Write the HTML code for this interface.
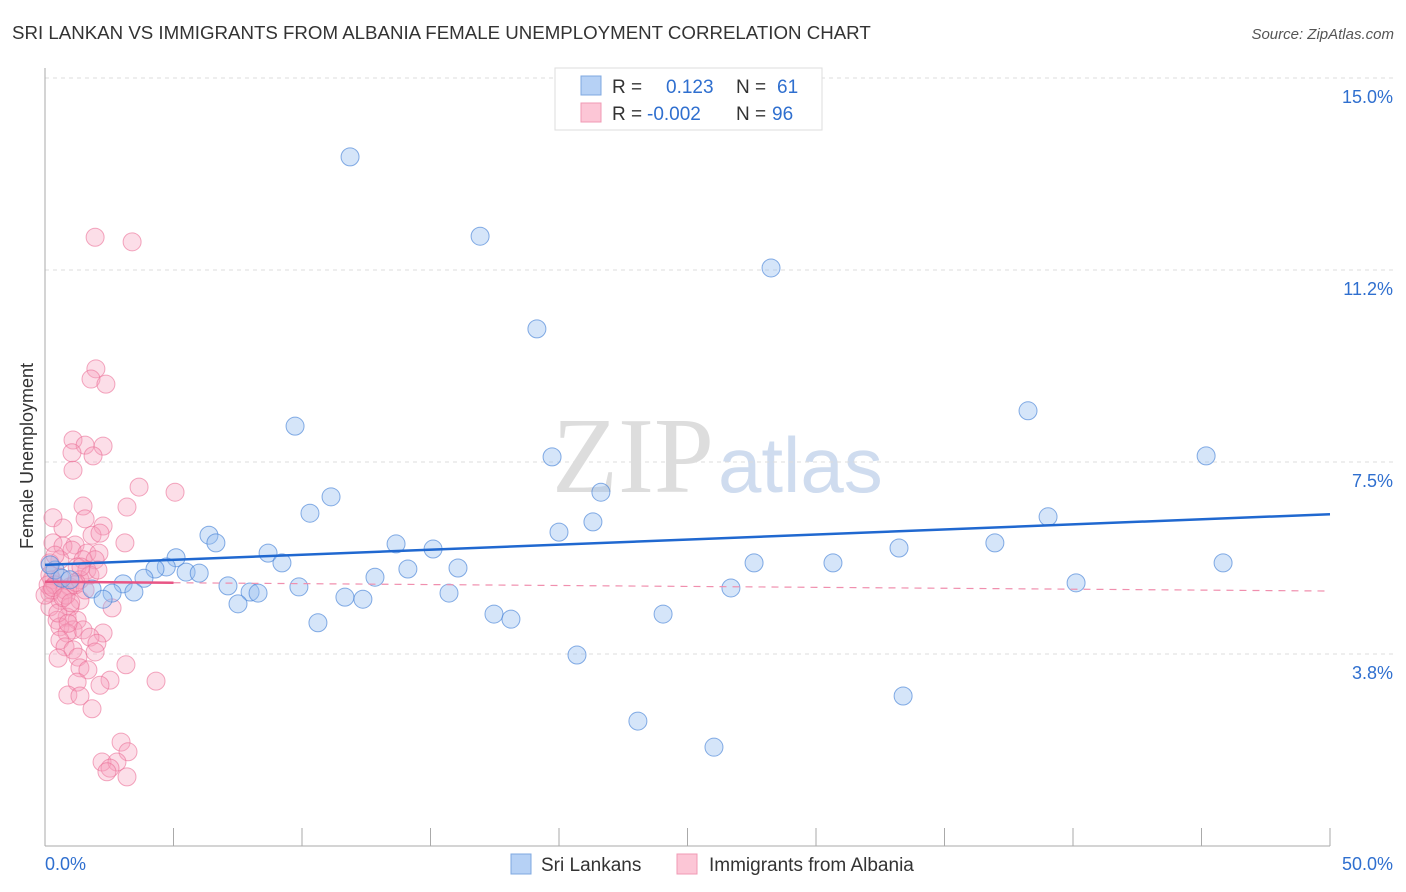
<!DOCTYPE html>
<html><head><meta charset="utf-8"><style>
body{margin:0;background:#fff;font-family:"Liberation Sans",sans-serif;}
#wrap{position:relative;width:1406px;height:892px;overflow:hidden}
svg{position:absolute;left:0;top:0}
</style></head><body>
<div id="wrap">
<svg id="svg" width="1406" height="892">
<text x="12" y="39" font-size="18.7" fill="#333">SRI LANKAN VS IMMIGRANTS FROM ALBANIA FEMALE UNEMPLOYMENT CORRELATION CHART</text>
<text x="1394" y="39" font-size="15" fill="#555" text-anchor="end" font-style="italic">Source: ZipAtlas.com</text>
<text transform="translate(33,456) rotate(-90)" font-size="18" fill="#333" text-anchor="middle">Female Unemployment</text>
<text x="714" y="492" font-size="108" fill="#ddd" text-anchor="end" font-family="Liberation Serif">ZIP</text>
<text x="718" y="492" font-size="78" fill="#cfdcef">atlas</text>
<g id="grid"></g><g id="axes"></g><g id="pink"></g><g id="blue"></g><g id="lines"></g>
<g>
<rect x="555" y="68" width="267" height="62" fill="#fff" stroke="#ddd"/>
<rect x="581" y="76" width="20" height="19" fill="#b6d1f5" stroke="#7fa8e0"/>
<rect x="581" y="103" width="20" height="19" fill="#fcc6d6" stroke="#f09ab4"/>
<text x="612" y="93" font-size="19" fill="#333">R = <tspan x="666" fill="#2f6fcf">0.123</tspan><tspan x="736" fill="#333">N = </tspan><tspan x="777" fill="#2f6fcf">61</tspan></text>
<text x="612" y="120" font-size="19" fill="#333">R = <tspan x="647" fill="#2f6fcf">-0.002</tspan><tspan x="736" fill="#333">N = </tspan><tspan x="772" fill="#2f6fcf">96</tspan></text>
</g>
<g>
<rect x="511" y="854" width="20" height="20" fill="#b6d1f5" stroke="#7fa8e0"/>
<text x="541" y="871" font-size="19" fill="#333">Sri Lankans</text>
<rect x="677" y="854" width="20" height="20" fill="#fcc6d6" stroke="#f09ab4"/>
<text x="709" y="871" font-size="19" fill="#333">Immigrants from Albania</text>
</g>
</svg></div>
<script>
const yTicks=[3.75,7.5,11.25,15];
const yTickLabels=["3.8%","7.5%","11.2%","15.0%"];
const xTickVals=[0,5,10,15,20,25,30,35,40,45,50];
const blueX=[11.87,16.93,28.25,19.14,38.25,9.73,19.73,45.18,21.63,11.13,10.31,39.03,21.32,20.0,6.38,6.65,13.66,36.96,15.1,33.23,8.68,5.10,9.22,27.59,30.66,45.84,4.72,4.28,14.12,16.07,5.49,6.0,3.85,12.84,40.12,3.04,7.12,9.88,26.69,1.83,7.98,8.29,3.46,2.61,15.72,11.67,12.37,2.26,7.51,17.47,18.13,24.05,10.62,20.7,33.39,23.07,26.03,0.39,0.66,0.97,0.2];
const blueY=[13.46,11.91,11.29,10.10,8.50,8.20,7.60,7.62,6.91,6.82,6.50,6.43,6.33,6.13,6.07,5.92,5.90,5.92,5.80,5.82,5.72,5.63,5.53,5.53,5.53,5.53,5.45,5.41,5.41,5.43,5.35,5.33,5.23,5.25,5.14,5.12,5.08,5.06,5.04,5.02,4.96,4.94,4.96,4.94,4.94,4.86,4.82,4.82,4.73,4.53,4.43,4.53,4.36,3.73,2.93,2.44,1.93,5.39,5.23,5.20,5.49];
const pinkX=[1.95,3.39,1.98,1.79,2.37,1.09,1.56,2.26,1.05,1.87,1.09,3.66,5.06,3.19,1.48,0.31,1.56,0.70,2.26,1.83,2.14,0.31,3.11,1.17,0.70,1.05,1.63,2.10,1.48,1.95,0.58,0.19,1.25,1.63,0.58,0.27,0.97,0.19,0.58,1.36,2.61,0.97,0.19,0.86,0.47,1.25,0.58,1.09,1.48,2.26,0.86,0.58,1.75,2.02,0.78,1.09,1.95,0.51,1.28,3.15,1.36,1.67,4.32,2.53,1.25,2.14,0.89,1.36,1.83,2.96,3.23,2.22,2.80,2.53,3.19,2.41,0.19,0.12,0.27,0.39,0.78,0,0.82,1.36,1.17,1.75,2.06,1.56,0.39,0.5,0.9,1.2,0.3,0.7,1.0,1.4];
const pinkY=[11.89,11.80,9.32,9.12,9.02,7.93,7.83,7.81,7.68,7.62,7.34,7.01,6.91,6.62,6.64,6.41,6.39,6.21,6.25,6.07,6.11,5.92,5.92,5.88,5.86,5.78,5.72,5.72,5.59,5.59,5.59,5.53,5.45,5.39,5.25,5.20,5.06,4.94,4.80,4.80,4.65,4.67,4.67,4.47,4.41,4.41,4.28,4.22,4.22,4.16,4.16,4.02,4.08,3.96,3.89,3.83,3.79,3.67,3.69,3.54,3.48,3.44,3.22,3.24,3.20,3.14,2.95,2.93,2.68,2.03,1.84,1.64,1.64,1.52,1.35,1.45,5.29,5.10,5.00,5.10,5.00,4.90,4.90,5.20,5.10,5.29,5.39,5.00,5.68,4.55,4.35,5.15,5.05,4.85,4.75,5.45];
const blueTrend=[5.49,6.48];
const pinkTrend=[5.16,4.98];
const pinkSolidEnd=5.0;
const NS="http://www.w3.org/2000/svg";
const X=v=>45+v*25.7, Y=v=>846-v*51.2;
function mk(tag,attrs,parent){const e=document.createElementNS(NS,tag);for(const k in attrs)e.setAttribute(k,attrs[k]);document.getElementById(parent).appendChild(e);return e;}
mk('line',{x1:45,y1:78,x2:1394,y2:78,stroke:'#ddd','stroke-dasharray':'4,4'},'grid');
yTicks.forEach((t,i)=>{
 const g=mk('line',{x1:45,y1:Y(t),x2:1394,y2:Y(t),stroke:'#ddd','stroke-dasharray':'4,4'},'grid');
 
 
 const l=mk('text',{x:1393,y:Y(t)+25,'font-size':18,fill:'#2f6fcf','text-anchor':'end'},'axes');
 l.textContent=yTickLabels[i];
 
 
});
mk('line',{x1:45,y1:68,x2:45,y2:846,stroke:'#aaa'},'axes');
mk('line',{x1:45,y1:846,x2:1330,y2:846,stroke:'#aaa'},'axes');
xTickVals.forEach(t=>{const e=mk('line',{x1:X(t),y1:828,x2:X(t),y2:846,stroke:'#aaa'},'axes');
 
 });
let t0=mk('text',{x:45,y:870,'font-size':18,fill:'#2f6fcf'},'axes');t0.textContent='0.0%';


let t1=mk('text',{x:1393,y:870,'font-size':18,fill:'#2f6fcf','text-anchor':'end'},'axes');t1.textContent='50.0%';


pinkX.forEach((x,i)=>{const c=mk('circle',{cx:X(x),cy:Y(pinkY[i]),r:9,fill:'rgba(247,160,190,0.35)',stroke:'rgba(235,110,150,0.6)','stroke-width':1},'pink');
 
 });
blueX.forEach((x,i)=>{const c=mk('circle',{cx:X(x),cy:Y(blueY[i]),r:9,fill:'rgba(150,190,240,0.4)',stroke:'rgba(70,130,215,0.65)','stroke-width':1},'blue');
 
 });
const pl=(x)=>pinkTrend[0]+(pinkTrend[1]-pinkTrend[0])*x/50;
let d=mk('line',{x1:X(pinkSolidEnd),y1:Y(pl(pinkSolidEnd)),x2:X(50),y2:Y(pinkTrend[1]),stroke:'#f08fae','stroke-width':1.2,'stroke-dasharray':'7,6'},'lines');


let s=mk('line',{x1:X(0),y1:Y(pinkTrend[0]),x2:X(pinkSolidEnd),y2:Y(pl(pinkSolidEnd)),stroke:'#e85585','stroke-width':2.5},'lines');


let b=mk('line',{x1:X(0),y1:Y(blueTrend[0]),x2:X(50),y2:Y(blueTrend[1]),stroke:'#2068d0','stroke-width':2.5},'lines');


</script></body></html>
